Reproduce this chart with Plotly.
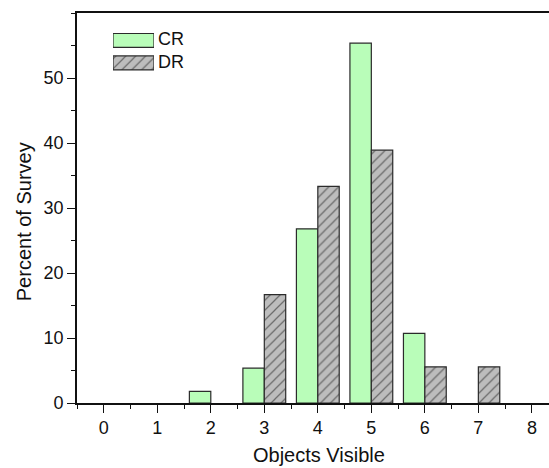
import plotly.graph_objects as go

# Survey results: number of objects visible, percent of respondents
# (None = no respondents in that category, so no bar is drawn)
objects = [0, 1, 2, 3, 4, 5, 6, 7, 8]
cr_pct = [None, None, 1.79, 5.36, 26.79, 55.36, 10.71, None, None]
dr_pct = [None, None, None, 16.67, 33.33, 38.89, 5.56, 5.56, None]
series_names = ["CR", "DR"]
y_ticks = [0, 10, 20, 30, 40, 50]
x_title = "Objects Visible"
y_title = "Percent of Survey"

FONT = "Arial, Liberation Sans, sans-serif"
CR_FILL = "#b9fdb9"
DR_FILL = "#bdbdbd"
EDGE = "#2b2b2b"

W, H = 549, 468
ML, MT, MB = 77, 13, 64.5
plot_h = H - MT - MB
plot_w = W - ML

dr_pattern = dict(shape="/", fgcolor="#1a1a1a", fillmode="overlay", size=7, solidity=0.18)
styles = [
    dict(color=CR_FILL, line=dict(color=EDGE, width=1.2)),
    dict(color=DR_FILL, line=dict(color=EDGE, width=1.2), pattern=dr_pattern),
]

fig = go.Figure()
fig.add_trace(go.Bar(x=objects, y=cr_pct, name=series_names[0], width=0.4, offset=-0.4,
                     marker=styles[0], showlegend=False))
fig.add_trace(go.Bar(x=objects, y=dr_pct, name=series_names[1], width=0.4, offset=0,
                     marker=styles[1], showlegend=False))


def py(pix):
    return (H - MB - pix) / plot_h


def px(pix):
    return (pix - ML) / plot_w


# Legend keys: wide swatches on a small inset axis, with text labels beside them
for name, marker in zip(series_names, styles):
    fig.add_trace(go.Bar(x=[1], y=[name], orientation="h", width=0.62, marker=marker,
                         xaxis="x2", yaxis="y2", showlegend=False, hoverinfo="skip"))
    fig.add_annotation(x=1, y=name, xref="x2", yref="y2", text=name, showarrow=False,
                       xanchor="left", xshift=2, yshift=1, font=dict(size=18))

# Axis titles (the frame is clipped on the right, so titles are placed explicitly)
fig.add_annotation(x=px(319), y=py(456), xref="paper", yref="paper", text=x_title,
                   showarrow=False, xanchor="center", yanchor="middle", font=dict(size=20))
fig.add_annotation(x=px(23.5), y=py(222), xref="paper", yref="paper", text=y_title,
                   textangle=-90, showarrow=False, xanchor="center", yanchor="middle",
                   font=dict(size=20))

fig.update_layout(
    width=W, height=H,
    margin=dict(l=ML, r=0, t=MT, b=MB),
    paper_bgcolor="white", plot_bgcolor="white",
    font=dict(family=FONT, size=18, color="#111111"),
    barmode="overlay",
    xaxis=dict(
        range=[-0.5, 8.32], tickvals=objects, ticks="outside", ticklen=8, tickwidth=1.3,
        tickcolor="#111", showline=True, linecolor="#111", linewidth=1.6, mirror=True,
        showgrid=False, zeroline=False,
        minor=dict(dtick=0.5, tick0=-0.5, ticks="outside", ticklen=4, tickwidth=1.3, tickcolor="#111"),
    ),
    yaxis=dict(
        range=[0, 60], tickvals=y_ticks, ticks="outside", ticklen=8, tickwidth=1.3,
        tickcolor="#111", showline=True, linecolor="#111", linewidth=1.6,
        showgrid=False, zeroline=False,
        minor=dict(dtick=5, ticks="outside", ticklen=4, tickwidth=1.3, tickcolor="#111"),
    ),
    xaxis2=dict(domain=[px(113), px(154)], range=[0, 1], visible=False, anchor="y2"),
    yaxis2=dict(
        domain=[py(74.25), py(29.25)], anchor="x2", visible=False, range=[-0.5, 1.5],
        categoryorder="array", categoryarray=[series_names[1], series_names[0]],
    ),
)

fig.write_html("out.html")
